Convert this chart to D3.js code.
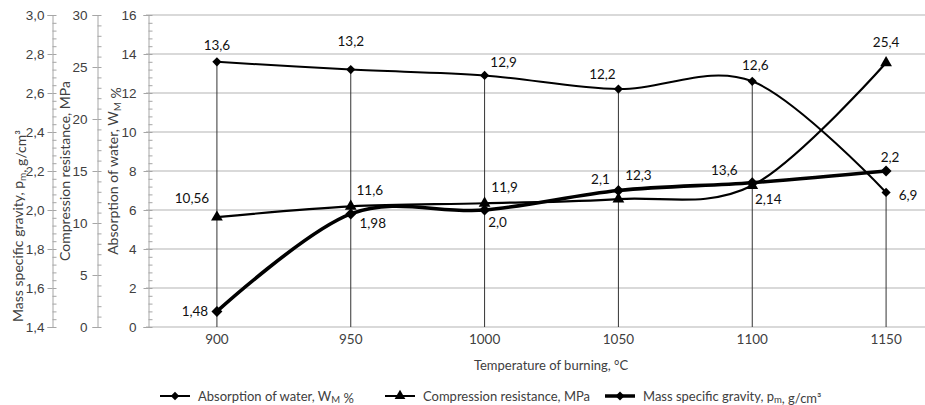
<!DOCTYPE html>
<html>
<head>
<meta charset="utf-8">
<script src="https://cdn.jsdelivr.net/npm/d3@7"></script>
<style>
  html, body { margin: 0; padding: 0; background: #fff; }
  svg { display: block; font-family: Lato, "Open Sans", sans-serif; }
</style>
</head>
<body>
<svg id="chart" width="925" height="405"></svg>
<script>
// Burning temperature, °C
const temperatures = [900, 950, 1000, 1050, 1100, 1150];
// Absorption of water, W %
const waterAbsorption = [13.6, 13.2, 12.9, 12.2, 12.6, 6.9];
// Compression resistance, MPa
const compression = [10.56, 11.6, 11.9, 12.3, 13.6, 25.4];
// Mass specific gravity, g/cm3
const massGravity = [1.48, 1.98, 2.0, 2.1, 2.14, 2.2];

// Axis tick values
const waterTicks = [0, 2, 4, 6, 8, 10, 12, 14, 16];
const compressionTicks = [0, 5, 10, 15, 20, 25, 30];
const massTicks = [1.4, 1.6, 1.8, 2.0, 2.2, 2.4, 2.6, 2.8, 3.0];

// Data label placement (offset from each marker, px)
const waterLabelOffset = [[0, -17], [0, -28], [19, -13], [-16, -15], [3, -16], [22, 3]];
const compressionLabelOffset = [[-25, -19], [19, -16], [20, -16], [20, -24], [-28, -15], [0, -21]];
const massLabelOffset = [[-22, 0], [22, 9], [13, 12], [-18, -11], [16, 17], [4, -14]];

const svg = d3.select("#chart");
const plotTop = 15, plotBottom = 327;

const x = d3.scalePoint().domain(temperatures).range([150, 953]).padding(0.5);
const yWater = d3.scaleLinear().domain([0, 16]).range([plotBottom, plotTop]);
const yComp = d3.scaleLinear().domain([0, 30]).range([plotBottom, plotTop]);
const yMass = d3.scaleLinear().domain([1.4, 3.0]).range([plotBottom, plotTop]);

const locale = d3.formatLocale({decimal: ",", thousands: " ", grouping: [3], currency: ["", ""]});
const f1 = locale.format(".1f"), f2 = locale.format(".2f");
const valueText = v => (Math.abs(v * 10 - Math.round(v * 10)) < 1e-9 ? f1(v) : f2(v));

const axisColor = "#a6a6a6";
const tickText = "#404040";

// Horizontal gridlines
svg.append("g").selectAll("line")
  .data(waterTicks)
  .join("line")
  .attr("x1", 146).attr("x2", 925)
  .attr("y1", d => yWater(d)).attr("y2", d => yWater(d))
  .attr("stroke", "#d9d9d9").attr("stroke-width", 2);

// Vertical axes: major ticks crossing the line, minor ticks on the right side
function drawAxis(scale, xPos, ticks, minorTicks, fmt, pad) {
  const g = svg.append("g").attr("transform", `translate(${xPos},0)`);
  g.call(d3.axisLeft(scale).tickValues(ticks).tickSize(5).tickPadding(pad).tickFormat(fmt));
  g.call(gg => gg.selectAll("text").attr("fill", tickText).attr("font-size", 13.5));
  g.call(gg => gg.selectAll("line, path").attr("stroke", axisColor));
  const m = svg.append("g").attr("transform", `translate(${xPos},0)`);
  m.call(d3.axisRight(scale).tickValues(minorTicks).tickSize(4).tickFormat(""));
  m.call(gg => gg.select(".domain").remove());
  m.call(gg => gg.selectAll("line").attr("stroke", axisColor));
}
const range = (a, b, s) => d3.range(Math.round((b - a) / s) + 1).map(i => +(a + i * s).toFixed(4));
drawAxis(yMass, 52.5, massTicks, range(1.4, 3.0, 0.04), f1, 3);
drawAxis(yComp, 97.5, compressionTicks, range(0, 30, 1), d3.format("d"), 5);
drawAxis(yWater, 148.5, waterTicks, range(0, 16, 0.4), d3.format("d"), 7);

// X axis labels
svg.append("g").selectAll("text")
  .data(temperatures)
  .join("text")
  .attr("x", d => x(d)).attr("y", 344)
  .attr("text-anchor", "middle").attr("font-size", 13.5).attr("fill", tickText)
  .text(d => d);

svg.append("text")
  .attr("x", 551).attr("y", 370)
  .attr("text-anchor", "middle").attr("font-size", 13).attr("fill", tickText)
  .text("Temperature of burning, °C");

// Rotated axis titles with subscripts
function vTitle(cx, cy, parts) {
  const t = svg.append("text")
    .attr("transform", `translate(${cx},${cy}) rotate(-90)`)
    .attr("text-anchor", "middle").attr("font-size", 14).attr("fill", tickText);
  parts.forEach(p => {
    if (p.sub) {
      t.append("tspan").attr("font-size", 10).attr("dy", 3).text(p.sub);
      t.append("tspan").attr("dy", -3).text("");
    } else t.append("tspan").text(p.t);
  });
}
vTitle(23, 226, [{t: "Mass specific gravity, p"}, {sub: "m"}, {t: ", g/cm³"}]);
vTitle(70, 171, [{t: "Compression resistance, MPa"}]);
vTitle(118, 171, [{t: "Absorption of water, W"}, {sub: "M"}, {t: " %"}]);

// Drop lines from the water series to the category axis
svg.append("g").selectAll("line")
  .data(temperatures)
  .join("line")
  .attr("x1", d => x(d)).attr("x2", d => x(d))
  .attr("y1", (d, i) => yWater(waterAbsorption[i])).attr("y2", plotBottom)
  .attr("stroke", "#333").attr("stroke-width", 1);

const curve = d3.curveCardinal.tension(0);
const diamond = s => d3.symbol().type(d3.symbolSquare).size(s);

function series(values, y, width, marker, markerRotate) {
  const pts = temperatures.map((t, i) => [x(t), y(values[i])]);
  svg.append("path")
    .attr("d", d3.line().curve(curve)(pts))
    .attr("fill", "none").attr("stroke", "#000").attr("stroke-width", width)
    .attr("stroke-linejoin", "round");
  svg.append("g").selectAll("path")
    .data(pts)
    .join("path")
    .attr("transform", d => `translate(${d[0]},${d[1]}) rotate(${markerRotate})`)
    .attr("d", marker)
    .attr("fill", "#000");
  return pts;
}

const waterPts = series(waterAbsorption, yWater, 2, diamond(42)(), 45);
const compPts = series(compression, yComp, 2.2, d3.symbol().type(d3.symbolTriangle).size(60)(), 0);
const massPts = series(massGravity, yMass, 3.6, diamond(60)(), 45);

function labels(pts, values, offsets) {
  svg.append("g").selectAll("text")
    .data(pts)
    .join("text")
    .attr("x", (d, i) => d[0] + offsets[i][0])
    .attr("y", (d, i) => d[1] + offsets[i][1])
    .attr("dy", "0.35em")
    .attr("text-anchor", "middle")
    .attr("font-size", 13.5).attr("fill", "#111")
    .text((d, i) => valueText(values[i]));
}
labels(waterPts, waterAbsorption, waterLabelOffset);
labels(compPts, compression, compressionLabelOffset);
labels(massPts, massGravity, massLabelOffset);

// Legend
const legendItems = [
  {x: 160, parts: [{t: "Absorption of water, W"}, {sub: "M"}, {t: " %"}], marker: diamond(36)(), rot: 45, w: 2},
  {x: 385, parts: [{t: "Compression resistance, MPa"}], marker: d3.symbol().type(d3.symbolTriangle).size(50)(), rot: 0, w: 2},
  {x: 605, parts: [{t: "Mass specific gravity, p"}, {sub: "m"}, {t: ", g/cm³"}], marker: diamond(40)(), rot: 45, w: 3.5}
];
const ly = 396;
legendItems.forEach(it => {
  const g = svg.append("g");
  g.append("line").attr("x1", it.x).attr("x2", it.x + 30).attr("y1", ly).attr("y2", ly)
    .attr("stroke", "#000").attr("stroke-width", it.w);
  g.append("path").attr("d", it.marker)
    .attr("transform", `translate(${it.x + 15},${ly}) rotate(${it.rot})`).attr("fill", "#000");
  const t = g.append("text").attr("x", it.x + 38).attr("y", ly + 4.5)
    .attr("font-size", 13).attr("fill", tickText);
  it.parts.forEach(p => {
    if (p.sub) {
      t.append("tspan").attr("font-size", 9.5).attr("dy", 2.5).text(p.sub);
      t.append("tspan").attr("dy", -2.5).text("");
    } else t.append("tspan").text(p.t);
  });
});
</script>
</body>
</html>
